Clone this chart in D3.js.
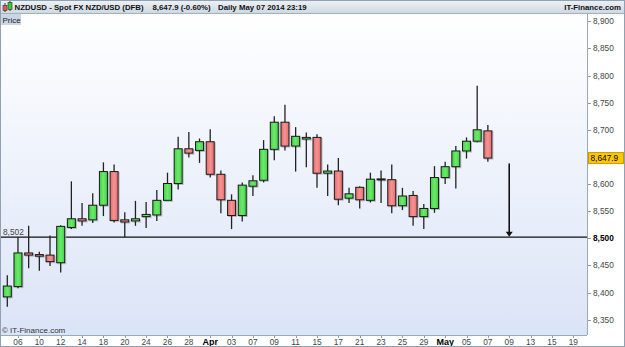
<!DOCTYPE html>
<html>
<head>
<meta charset="utf-8">
<script src="https://cdn.jsdelivr.net/npm/d3@7"></script>
<style>
  body { margin: 0; background: #fff; }
  svg { display: block; font-family: "Liberation Sans", Arial, sans-serif; }
</style>
</head>
<body>
<div id="chart"></div>
<script>
// trading days on the x axis (Mar 5 .. May 19, 2014)
const days = ["Mar 05","Mar 06","Mar 07","Mar 10","Mar 11","Mar 12","Mar 13","Mar 14","Mar 17","Mar 18",
  "Mar 19","Mar 20","Mar 21","Mar 24","Mar 25","Mar 26","Mar 27","Mar 28","Mar 31","Apr 01",
  "Apr 02","Apr 03","Apr 04","Apr 07","Apr 08","Apr 09","Apr 10","Apr 11","Apr 14","Apr 15",
  "Apr 16","Apr 17","Apr 18","Apr 21","Apr 22","Apr 23","Apr 24","Apr 25","Apr 28","Apr 29",
  "Apr 30","May 01","May 02","May 05","May 06","May 07","May 08","May 09","May 12","May 13",
  "May 14","May 15","May 16","May 19"];

// daily OHLC, one entry per candle (first 46 days)
const open  = [8392,8411,8473,8470,8469,8455,8520,8536,8534,8561,8623,8534,8532,8540,8543,8570,8601,8665,8662,8678,
               8618,8570,8542,8596,8607,8664,8714,8670,8683,8686,8620,8624,8574,8594,8570,8609,8608,8560,8579,8540,
               8555,8612,8632,8661,8679,8698];
const high  = [8432,8502,8523,8475,8505,8524,8605,8565,8583,8640,8636,8548,8569,8567,8589,8621,8687,8696,8684,8701,
               8625,8581,8603,8616,8681,8725,8746,8705,8695,8692,8636,8648,8593,8596,8621,8625,8636,8593,8587,8563,
               8633,8641,8670,8686,8781,8709];
const low   = [8374,8408,8445,8440,8449,8437,8517,8523,8528,8541,8529,8502,8523,8519,8532,8570,8590,8649,8639,8612,
               8546,8517,8531,8578,8603,8644,8662,8623,8631,8593,8578,8561,8565,8555,8566,8565,8546,8552,8523,8517,
               8547,8600,8592,8647,8677,8641];
const close = [8412,8473,8469,8467,8457,8522,8536,8532,8561,8623,8533,8530,8536,8544,8570,8601,8665,8657,8678,8618,
               8571,8542,8598,8606,8664,8714,8670,8688,8686,8620,8624,8572,8582,8571,8609,8609.5,8560,8578,8540,8555,
               8612,8632,8661,8679,8700,8647.9];

// 8,650 sits under the last-price tag, so it is not listed
const yTicks = [8350,8400,8450,8500,8550,8600,8700,8750,8800,8850,8900];
const levelValue = 8502;
const lastPrice = 8647.9;
const arrowDay = "May 09", arrowFrom = 8638, arrowTo = 8503;

const width = 625, height = 347;
const plot = { left: 1, top: 14, right: 587, bottom: 335 };

const svg = d3.select("#chart").append("svg")
  .attr("width", width).attr("height", height)
  .attr("viewBox", [0, 0, width, height]);

const x = d3.scaleLinear().domain([0, 53]).range([7.3, 573.3]);
const y = d3.scaleLinear().domain([8500, 8900]).range([238.3, 21.3]);
const fmt = d3.format(",");

const defs = svg.append("defs");
const bg = defs.append("linearGradient").attr("id", "bg").attr("x1", 0).attr("y1", 0).attr("x2", 0).attr("y2", 1);
bg.append("stop").attr("offset", 0).attr("stop-color", "#ffffff");
bg.append("stop").attr("offset", 1).attr("stop-color", "#dbe4f7");
const hd = defs.append("linearGradient").attr("id", "hd").attr("x1", 0).attr("y1", 0).attr("x2", 0).attr("y2", 1);
hd.append("stop").attr("offset", 0).attr("stop-color", "#eef2f6");
hd.append("stop").attr("offset", 1).attr("stop-color", "#cfd9e3");
const gr = defs.append("linearGradient").attr("id", "gr").attr("x1", 0).attr("y1", 0).attr("x2", 1).attr("y2", 0);
gr.append("stop").attr("offset", 0).attr("stop-color", "#3fd43f");
gr.append("stop").attr("offset", 0.5).attr("stop-color", "#6ee86e");
gr.append("stop").attr("offset", 1).attr("stop-color", "#3fd43f");
const rd = defs.append("linearGradient").attr("id", "rd").attr("x1", 0).attr("y1", 0).attr("x2", 1).attr("y2", 0);
rd.append("stop").attr("offset", 0).attr("stop-color", "#e86a6a");
rd.append("stop").attr("offset", 0.5).attr("stop-color", "#f59494");
rd.append("stop").attr("offset", 1).attr("stop-color", "#e86a6a");

// plot background
svg.append("rect")
  .attr("x", plot.left).attr("y", plot.top)
  .attr("width", plot.right - plot.left).attr("height", plot.bottom - plot.top)
  .attr("fill", "url(#bg)");
svg.append("line")
  .attr("x1", plot.right + 0.5).attr("x2", plot.right + 0.5)
  .attr("y1", plot.top).attr("y2", plot.bottom)
  .attr("stroke", "#9aa9b8");
svg.append("line")
  .attr("x1", plot.left).attr("x2", plot.right)
  .attr("y1", plot.bottom + 0.5).attr("y2", plot.bottom + 0.5)
  .attr("stroke", "#9aa9b8");

// header
svg.append("rect").attr("x", 0).attr("y", 0).attr("width", width).attr("height", 13).attr("fill", "url(#hd)");
svg.append("line").attr("x1", 0).attr("x2", width).attr("y1", 13.5).attr("y2", 13.5).attr("stroke", "#a3b1bf");
// tiny candle icon
svg.append("line").attr("x1", 5).attr("x2", 5).attr("y1", 3).attr("y2", 12).attr("stroke", "#333");
svg.append("rect").attr("x", 3).attr("y", 5.5).attr("width", 4).attr("height", 5).attr("fill", "#e55").attr("stroke", "#333").attr("stroke-width", 0.6);
svg.append("line").attr("x1", 10).attr("x2", 10).attr("y1", 1).attr("y2", 11).attr("stroke", "#333");
svg.append("rect").attr("x", 8).attr("y", 2.5).attr("width", 4).attr("height", 7).attr("fill", "#3c3").attr("stroke", "#333").attr("stroke-width", 0.6);

const head = svg.append("g").attr("font-size", 7.8).attr("font-weight", "bold").attr("fill", "#111");
head.append("text").attr("x", 14.5).attr("y", 9.8).text("NZDUSD - Spot FX NZD/USD (DFB)");
head.append("text").attr("x", 152.5).attr("y", 9.8).text("8,647.9 (-0.60%)");
head.append("text").attr("x", 218).attr("y", 9.8).text("Daily");
head.append("text").attr("x", 239).attr("y", 9.8).text("May 07 2014 23:19");
head.append("text").attr("x", 621).attr("y", 9.8).attr("text-anchor", "end").text("IT-Finance.com");

// "Price" tag
svg.append("rect").attr("x", 1).attr("y", 14).attr("width", 20).attr("height", 11).attr("fill", "#c9d6e6");
svg.append("text").attr("x", 2.5).attr("y", 23).attr("font-size", 8).attr("fill", "#222").text("Price");

// y axis
const yAxis = svg.append("g");
yAxis.selectAll("line").data(yTicks).join("line")
  .attr("x1", plot.right + 1).attr("x2", plot.right + 4)
  .attr("y1", d => Math.round(y(d)) + 0.5).attr("y2", d => Math.round(y(d)) + 0.5)
  .attr("stroke", "#999");
yAxis.selectAll("text").data(yTicks).join("text")
  .attr("x", plot.right + 6).attr("y", d => y(d) + 3)
  .attr("font-size", 8.3)
  .attr("font-weight", d => d === 8500 ? "bold" : null)
  .attr("fill", d => d === 8500 ? "#000" : "#444")
  .text(d => fmt(d));

// x axis: every second trading day
const xTicks = days.map((d, i) => ({ i, d })).filter(t => t.i % 2 === 1);
const xAxis = svg.append("g");
xAxis.selectAll("line").data(xTicks).join("line")
  .attr("x1", t => Math.round(x(t.i)) + 0.5).attr("x2", t => Math.round(x(t.i)) + 0.5)
  .attr("y1", plot.bottom + 1).attr("y2", plot.bottom + 3)
  .attr("stroke", "#999");
xAxis.selectAll("text").data(xTicks).join("text")
  .attr("x", t => x(t.i)).attr("y", 345)
  .attr("text-anchor", "middle")
  .attr("font-size", t => t.d.endsWith("01") ? 9 : 8.3)
  .attr("font-weight", t => t.d.endsWith("01") ? "bold" : null)
  .attr("fill", t => t.d.endsWith("01") ? "#000" : "#444")
  .text(t => t.d.endsWith("01") ? t.d.slice(0, 3) : t.d.slice(4));

svg.append("text").attr("x", 2).attr("y", 333).attr("font-size", 8).attr("fill", "#333").text("\u00a9 IT-Finance.com");

// horizontal level
svg.append("line")
  .attr("x1", plot.left).attr("x2", plot.right)
  .attr("y1", y(levelValue)).attr("y2", y(levelValue))
  .attr("stroke", "#111").attr("stroke-width", 1.2);
svg.append("text").attr("x", 3).attr("y", y(levelValue) - 2.5)
  .attr("font-size", 8.3).attr("fill", "#444").text(fmt(levelValue));

// candles
const candles = open.map((o, i) => ({ i, o, h: high[i], l: low[i], c: close[i] }));
const bw = 8;
const cg = svg.append("g");
// soft shadow
cg.selectAll("rect.sh").data(candles).join("rect").attr("class", "sh")
  .attr("x", d => x(d.i) - bw / 2 + 1).attr("y", d => y(Math.max(d.o, d.c)) + 1)
  .attr("width", bw).attr("height", d => Math.max(1, Math.abs(y(d.o) - y(d.c))))
  .attr("fill", "none").attr("stroke", "#b4b8c4").attr("stroke-width", 1);
cg.selectAll("line.wick").data(candles).join("line").attr("class", "wick")
  .attr("x1", d => x(d.i)).attr("x2", d => x(d.i))
  .attr("y1", d => y(d.h)).attr("y2", d => y(d.l))
  .attr("stroke", "#222").attr("stroke-width", 1.3);
cg.selectAll("rect.body").data(candles).join("rect").attr("class", "body")
  .attr("x", d => x(d.i) - bw / 2).attr("y", d => y(Math.max(d.o, d.c)))
  .attr("width", bw).attr("height", d => Math.max(1, Math.abs(y(d.o) - y(d.c))))
  .attr("fill", d => d.c >= d.o ? "url(#gr)" : "url(#rd)")
  .attr("stroke", "#1a1a1a").attr("stroke-width", 1);

// last price tag
const py = y(lastPrice);
svg.append("rect").attr("x", plot.right + 1.5).attr("y", py - 5.5).attr("width", 35).attr("height", 11)
  .attr("fill", "#fdc800").attr("stroke", "#c99a00");
svg.append("text").attr("x", plot.right + 3.5).attr("y", py + 3.2)
  .attr("font-size", 8.3).attr("fill", "#000").text(d3.format(",.1f")(lastPrice));

// target arrow
const ax = x(days.indexOf(arrowDay));
svg.append("line").attr("x1", ax).attr("x2", ax)
  .attr("y1", y(arrowFrom)).attr("y2", y(arrowTo) - 3)
  .attr("stroke", "#111").attr("stroke-width", 1.6);
svg.append("path")
  .attr("d", `M${ax - 3.5},${y(arrowTo) - 5} L${ax + 3.5},${y(arrowTo) - 5} L${ax},${y(arrowTo)} Z`)
  .attr("fill", "#111");

// outer frame
svg.append("rect").attr("x", 0.5).attr("y", 0.5).attr("width", width - 1).attr("height", height - 1)
  .attr("fill", "none").attr("stroke", "#8fa1b3");
</script>
</body>
</html>
